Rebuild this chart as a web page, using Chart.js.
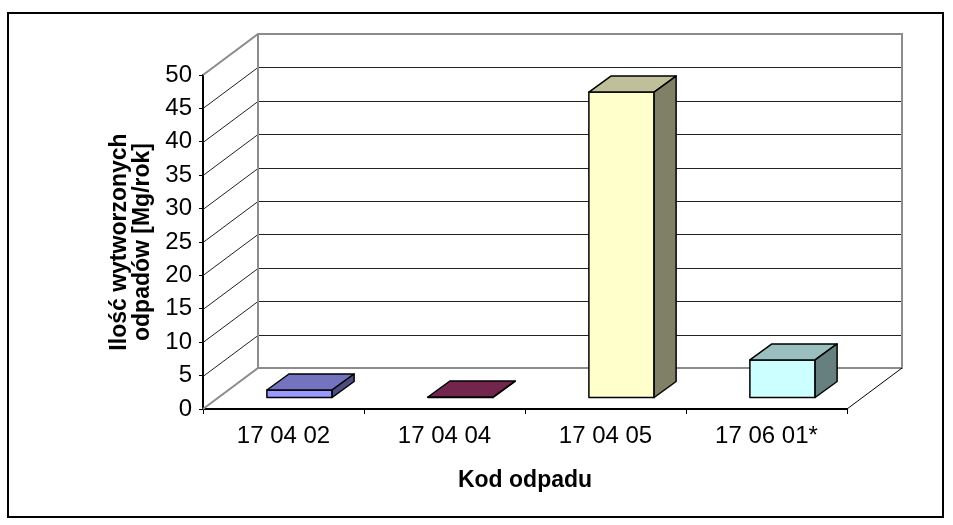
<!DOCTYPE html>
<html>
<head>
<meta charset="utf-8">
<script src="https://cdn.jsdelivr.net/npm/chart.js@4.4.1/dist/chart.umd.min.js"></script>
<style>
  html, body { margin: 0; padding: 0; background: #fff; }
  #wrap { width: 953px; height: 525px; }
</style>
</head>
<body>
<div id="wrap"><canvas id="odpady-chart" width="953" height="525"></canvas></div>
<script>
// raw data
kody = ['17 04 02', '17 04 04', '17 04 05', '17 06 01*'];
ilosc = [1.2, 0.15, 45.8, 5.7];
kolory = ['#9999FF', '#993366', '#FFFFCC', '#CCFFFF'];

yTicks = [0, 5, 10, 15, 20, 25, 30, 35, 40, 45, 50];

// 3d look: how far the back wall sits from the front axis, and bar depth
var wallDX = 55, wallDY = -41;
var barShiftX = 16, barShiftY = -11;
var barDX = 22, barDY = -16;

function shade(hex, f) {
    var r = parseInt(hex.substr(1, 2), 16), g = parseInt(hex.substr(3, 2), 16), b = parseInt(hex.substr(5, 2), 16);
    return 'rgb(' + Math.round(r * f) + ',' + Math.round(g * f) + ',' + Math.round(b * f) + ')';
}

function poly(ctx, pts, fill) {
    ctx.beginPath();
    ctx.moveTo(pts[0][0], pts[0][1]);
    for (var i = 1; i < pts.length; i++) ctx.lineTo(pts[i][0], pts[i][1]);
    ctx.closePath();
    ctx.fillStyle = fill;
    ctx.fill();
    ctx.stroke();
}

const excel3d = {
    id: 'excel3d',
    beforeDraw(chart) {
        const ctx = chart.ctx;
        ctx.save();
        ctx.fillStyle = '#fff';
        ctx.fillRect(0, 0, chart.width, chart.height);
        ctx.restore();
    },
    beforeDatasetsDraw(chart) {
        const ctx = chart.ctx;
        const a = chart.chartArea;
        const ys = chart.scales.y;
        ctx.save();
        // gridlines on the back wall + the slanted ones on the left wall
        ctx.strokeStyle = '#222';
        ctx.lineWidth = 1;
        for (var i = 1; i < yTicks.length - 1; i++) {
            var py = Math.round(ys.getPixelForValue(yTicks[i])) + 0.5;
            ctx.beginPath();
            ctx.moveTo(a.left, py);
            ctx.lineTo(a.left + wallDX, py + wallDY);
            ctx.lineTo(a.right + wallDX, py + wallDY);
            ctx.stroke();
        }
        // wall outline in grey
        var top = ys.getPixelForValue(50), bot = ys.getPixelForValue(0);
        ctx.strokeStyle = '#8c8c8c';
        ctx.lineWidth = 2;
        ctx.beginPath();
        ctx.moveTo(a.left, top);
        ctx.lineTo(a.left + wallDX, top + wallDY);
        ctx.lineTo(a.right + wallDX, top + wallDY);
        ctx.lineTo(a.right + wallDX, bot + wallDY);
        ctx.lineTo(a.left + wallDX, bot + wallDY);
        ctx.lineTo(a.left, bot);
        ctx.moveTo(a.left + wallDX, top + wallDY);
        ctx.lineTo(a.left + wallDX, bot + wallDY);
        ctx.stroke();
        // floor edge on the right
        ctx.strokeStyle = '#000';
        ctx.lineWidth = 1;
        ctx.beginPath();
        ctx.moveTo(a.right, bot);
        ctx.lineTo(a.right + wallDX, bot + wallDY);
        ctx.stroke();
        ctx.restore();
    },
    afterDatasetsDraw(chart) {
        const ctx = chart.ctx;
        const meta = chart.getDatasetMeta(0);
        ctx.save();
        ctx.strokeStyle = '#000';
        ctx.lineWidth = 1.5;
        ctx.lineJoin = 'round';
        meta.data.forEach(function (bar, i) {
            var p = bar.getProps(['x', 'y', 'base', 'width'], true);
            var x0 = p.x - p.width / 2 + barShiftX, x1 = p.x + p.width / 2 + barShiftX;
            var yt = p.y + barShiftY, yb = p.base + barShiftY;
            var c = kolory[i];
            // front
            poly(ctx, [[x0, yb], [x0, yt], [x1, yt], [x1, yb]], c);
            // top
            poly(ctx, [[x0, yt], [x0 + barDX, yt + barDY], [x1 + barDX, yt + barDY], [x1, yt]], shade(c, 0.75));
            // side
            poly(ctx, [[x1, yt], [x1 + barDX, yt + barDY], [x1 + barDX, yb + barDY], [x1, yb]], shade(c, 0.5));
        });
        ctx.restore();
    },
    afterDraw(chart) {
        const ctx = chart.ctx;
        ctx.save();
        ctx.strokeStyle = '#000';
        ctx.lineWidth = 2;
        ctx.strokeRect(8, 13, 935, 504);
        ctx.restore();
    }
};

new Chart('odpady-chart', {
    type: 'bar',
    data: {
        labels: kody,
        datasets: [{
            data: ilosc,
            backgroundColor: 'rgba(0,0,0,0)',
            borderWidth: 0,
            categoryPercentage: 1,
            barPercentage: 0.405
        }]
    },
    options: {
        responsive: false,
        animation: false,
        events: [],
        layout: { padding: { left: 109, top: 75, right: 106, bottom: 20 } },
        plugins: { legend: { display: false }, tooltip: { enabled: false } },
        scales: {
            x: {
                afterFit: function (s) { s.height = 96; },
                grid: { offset: true, drawOnChartArea: false, tickLength: 5, tickColor: '#000', tickWidth: 1 },
                border: { color: '#000', width: 2 },
                ticks: { color: '#000', padding: 8, maxRotation: 0, font: { family: 'Liberation Sans, Arial', size: 24 } },
                title: {
                    display: true, text: 'Kod odpadu', color: '#000',
                    padding: { top: 0, bottom: 11 },
                    font: { family: 'Liberation Sans, Arial', size: 23, weight: 'bold' }
                }
            },
            y: {
                min: 0, max: 50,
                afterFit: function (s) { s.width = 94; },
                afterBuildTicks: function (s) { s.ticks = yTicks.map(function (v) { return { value: v }; }); },
                grid: { drawOnChartArea: false, tickLength: 4, tickColor: '#000', tickWidth: 1 },
                border: { color: '#000', width: 2 },
                ticks: { color: '#000', padding: 7, font: { family: 'Liberation Sans, Arial', size: 24 } },
                title: {
                    display: true, text: ['Ilość wytworzonych', 'odpadów [Mg/rok]'], color: '#000',
                    padding: 0,
                    font: { family: 'Liberation Sans, Arial', size: 23, weight: 'bold', lineHeight: 0.97 }
                }
            }
        }
    },
    plugins: [excel3d]
});
</script>
</body>
</html>
